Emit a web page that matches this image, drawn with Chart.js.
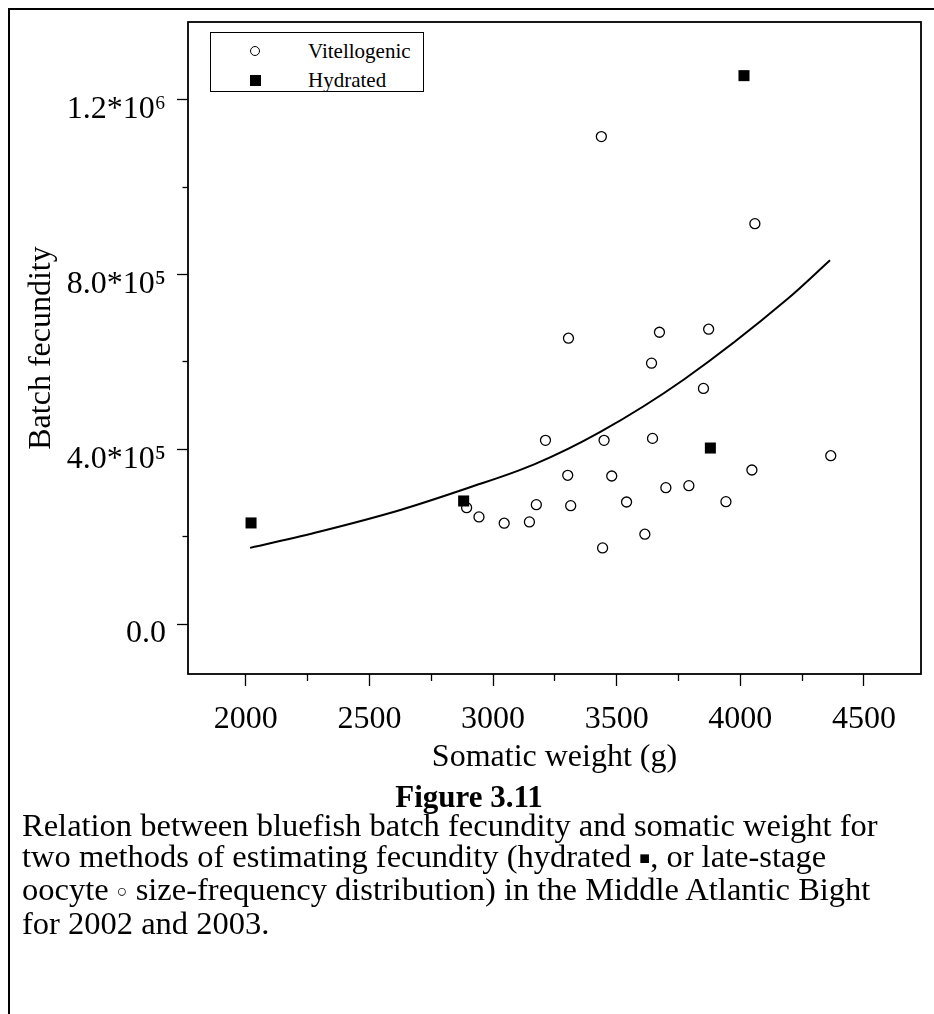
<!DOCTYPE html>
<html><head><meta charset="utf-8">
<script src="https://cdn.jsdelivr.net/npm/chart.js@4.4.1/dist/chart.umd.min.js"></script>
<style>
html,body{margin:0;padding:0;background:#fff;}
body{width:934px;height:1014px;position:relative;overflow:hidden;font-family:'Liberation Serif','Times New Roman',serif;color:#000;}
#wrap{position:absolute;left:0;top:0;width:934px;height:790px;}
.fTop{position:absolute;left:8px;top:8px;width:926px;height:2px;background:#000;}
.fLeft{position:absolute;left:8px;top:8px;width:2px;height:1006px;background:#000;}
#legend{position:absolute;left:210px;top:32px;width:214px;height:60px;border:1.5px solid #000;box-sizing:border-box;background:#fff;font-size:21px;}
.li{position:absolute;left:0;height:24px;line-height:24px;width:100%;}
.li span.t{position:absolute;left:97px;top:0;white-space:nowrap;}
.mk{position:absolute;left:39px;top:7px;box-sizing:border-box;}
.mk.c{width:10px;height:10px;border:1.3px solid #000;border-radius:50%;background:#fff;}
.mk.s{width:11px;height:11px;background:#000;left:38.5px;top:6.5px;}
.cap{position:absolute;line-height:31px;white-space:nowrap;}
#fig{left:8px;width:922px;text-align:center;top:781px;font-weight:bold;font-size:31px;}
#body{left:22px;top:810px;font-size:32.5px;}
.sym{font-size:0.55em;vertical-align:0.15em;}
</style></head>
<body>
<div class="fTop"></div><div class="fLeft"></div>
<div id="wrap"><canvas id="c" width="934" height="790"></canvas></div>
<div id="legend">
  <div class="li" style="top:6px"><div class="mk c"></div><span class="t">Vitellogenic</span></div>
  <div class="li" style="top:35px"><div class="mk s"></div><span class="t">Hydrated</span></div>
</div>
<div id="fig" class="cap">Figure 3.11</div>
<div id="body" class="cap">Relation between bluefish batch fecundity and somatic weight for<br>two methods of estimating fecundity (hydrated <span class="sym">■</span>, or late-stage<br>oocyte <span class="sym">○</span> size-frequency distribution) in the Middle Atlantic Bight<br>for 2002 and 2003.</div>
<script>
// Vitellogenic (open circles)
const vitX = [3438, 4059, 3673, 3872, 3305, 3641, 3851, 3212, 3449, 3645, 4047, 4366, 3302, 3480, 3699, 3792, 2893, 2943, 3045, 3147, 3175, 3314, 3540, 3942, 3614, 3443];
const vitY = [1116000, 916600, 668100, 675000, 654400, 597300, 539400, 420600, 420600, 425100, 352700, 385400, 340600, 339000, 312200, 316800, 266500, 245300, 230900, 233800, 273400, 271100, 279500, 280200, 205700, 174400];
// Hydrated (filled squares)
const hydX = [2021, 2881, 3879, 4015];
const hydY = [231500, 281800, 403000, 1255500];
// Fitted curve
const fitX = [2017, 2300, 2625, 2895, 3164, 3434, 3772, 4193, 4363];
const fitY = [174400, 212000, 261300, 310900, 365000, 440000, 560000, 745100, 832700];
// Axes
const xRange = [1766, 4731];
const yRange = [-114300, 1378300];
const xMajor = [2000, 2500, 3000, 3500, 4000, 4500];
const xMinor = [2250, 2750, 3250, 3750, 4250];
const yMajor = [0, 400000, 800000, 1200000];
const yMajorLabels = ['0.0', '4.0*10\u2075', '8.0*10\u2075', '1.2*10\u2076'];
const yMinor = [200000, 600000, 1000000];
const xTitle = 'Somatic weight (g)';
const yTitle = 'Batch fecundity';

const FONT = "'Liberation Serif', 'Times New Roman', serif";
function pts(xs, ys){ return xs.map((x,i)=>({x:x, y:ys[i]})); }
function fixTicks(vals){ return function(s){ s.ticks = vals.map(v=>({value:v})); }; }
function fixSize(prop, size){ return function(s){ s[prop]=size; s.paddingTop=0; s.paddingBottom=0; s.paddingLeft=0; s.paddingRight=0; }; }

const framePlugin = {
  id:'frame',
  beforeDatasetsDraw(chart){
    const {ctx, chartArea:a} = chart;
    ctx.save(); ctx.strokeStyle='#000'; ctx.lineWidth=1.8;
    ctx.strokeRect(a.left, a.top, a.right-a.left, a.bottom-a.top);
    ctx.restore();
  }
};

const tickGrid = (len) => ({drawOnChartArea:false, drawTicks:true, tickLength:len, tickColor:'#000', tickWidth:1.3});

new Chart(document.getElementById('c'), {
  type:'scatter',
  data:{datasets:[
    {label:'Hydrated', data:pts(hydX,hydY), pointStyle:'rect', pointRadius:7.8, backgroundColor:'#000', borderColor:'#000', borderWidth:0, order:1},
    {label:'Vitellogenic', data:pts(vitX,vitY), pointStyle:'circle', pointRadius:5, backgroundColor:'#fff', borderColor:'#000', borderWidth:1.3, order:2},
    {label:'fit', data:pts(fitX,fitY), showLine:true, pointRadius:0, borderColor:'#000', borderWidth:2, cubicInterpolationMode:'monotone', fill:false, order:3}
  ]},
  options:{
    responsive:false, animation:false, devicePixelRatio:1,
    layout:{padding:{left:0, top:22, right:13, bottom:0}},
    plugins:{legend:{display:false}, tooltip:{enabled:false}},
    events:[],
    scales:{
      x:{type:'linear', position:'bottom', weight:1, min:xRange[0], max:xRange[1],
         afterBuildTicks:fixTicks(xMajor), afterFit:fixSize('height',116),
         grid:tickGrid(12), border:{display:false},
         ticks:{autoSkip:false, maxRotation:0, padding:14, color:'#000', font:{family:FONT, size:32}, callback:v=>String(v)},
         title:{display:true, text:xTitle, color:'#000', font:{family:FONT, size:32}, padding:{top:13, bottom:13}}},
      x2:{type:'linear', position:'bottom', weight:0, min:xRange[0], max:xRange[1],
         afterBuildTicks:fixTicks(xMinor), afterFit:fixSize('height',0),
         grid:tickGrid(7), border:{display:false}, ticks:{display:false}},
      y:{type:'linear', position:'left', weight:1, min:yRange[0], max:yRange[1],
         afterBuildTicks:fixTicks(yMajor), afterFit:fixSize('width',188),
         grid:tickGrid(11), border:{display:false},
         ticks:{autoSkip:false, padding:11, labelOffset:10, color:'#000', font:{family:FONT, size:32}, callback:v=>yMajorLabels[yMajor.indexOf(v)]},
         title:{display:true, text:yTitle, color:'#000', font:{family:FONT, size:32}, padding:{top:22, bottom:22}}},
      y2:{type:'linear', position:'left', weight:0, min:yRange[0], max:yRange[1],
         afterBuildTicks:fixTicks(yMinor), afterFit:fixSize('width',0),
         grid:tickGrid(5.5), border:{display:false}, ticks:{display:false}}
    }
  },
  plugins:[framePlugin]
});
</script>
</body></html>
